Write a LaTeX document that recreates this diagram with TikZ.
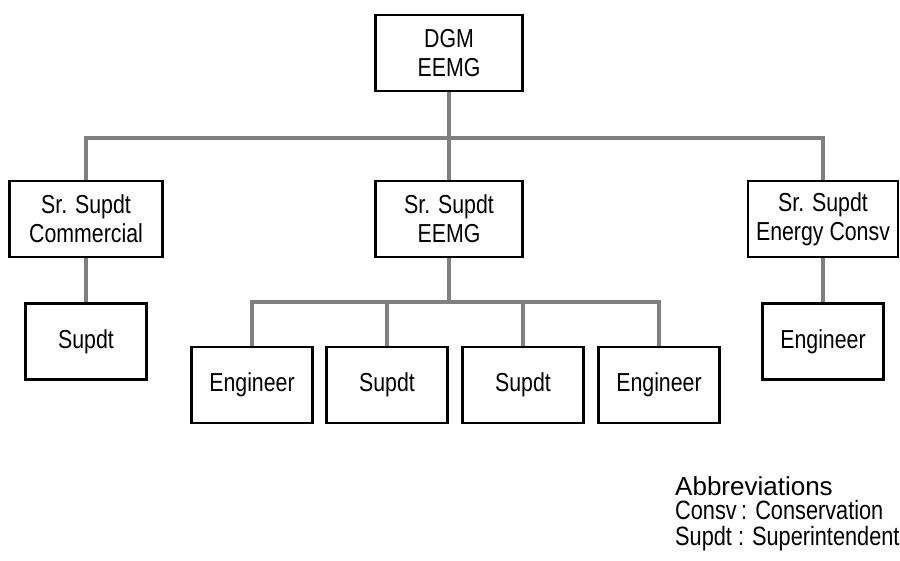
\documentclass[tikz,border=0pt]{standalone}
\usepackage{fontspec}
\setmainfont{Liberation Sans}
\newfontfamily\narrowfont[FakeStretch=0.82]{Liberation Sans}
\usepackage{xcolor}
\usepackage{tikz}
\usetikzlibrary{positioning, calc}
\definecolor{linkgray}{HTML}{808080}
\tikzset{
    orgbox/.style   = {draw=black, line width=2.6pt, fill=white, align=center,
                       font=\narrowfont\fontsize{26}{29}\selectfont, inner sep=2pt,
                       minimum width=150pt, minimum height=76pt},
    leafbox/.style  = {orgbox, minimum width=121pt},
    link/.style     = {linkgray, line width=4pt},
    abbrev/.style   = {anchor=base west, inner sep=0pt},
    abbrline/.style = {abbrev, font=\narrowfont\fontsize{26.5}{30}\selectfont},
}

\begin{document}
\begin{tikzpicture}[x=1pt, y=-1pt, node distance=44pt and 14pt]
\useasboundingbox (0,0) rectangle (900,561);

% top level
\node[orgbox, minimum width=147pt] (dgm) at (449,53) {DGM\\EEMG};

% second level
\node[orgbox, minimum width=153pt] (comm)   at (86,219)  {Sr. Supdt\\Commercial};
\node[orgbox, minimum width=147pt] (eemg)   at (449,219) {Sr. Supdt\\EEMG};
\node[orgbox]                      (energy) at (823,219) {Sr. Supdt\\Energy Consv};

% staff under the side heads
\node[leafbox, below=of comm]   (commsup) {Supdt};
\node[leafbox, below=of energy] (energyeng) {Engineer};

% staff under EEMG
\node[leafbox] (eng1) at (252,385) {Engineer};
\node[leafbox] (sup2) at (387,385) {Supdt};
\node[leafbox] (sup3) at (523,385) {Supdt};
\node[leafbox] (eng4) at (659,385) {Engineer};

% connectors
\coordinate (topbus) at ($(dgm.south)+(0,46)$);
\draw[link] (dgm.south) -- (topbus);
\draw[link] (topbus) -| (comm.north);
\draw[link] (topbus) -| (energy.north);
\draw[link] (dgm.south) -- (eemg.north);

\draw[link] (comm.south) -- (commsup.north);
\draw[link] (energy.south) -- (energyeng.north);

\coordinate (midbus) at ($(eemg.south)+(0,44)$);
\draw[link] (eemg.south) -- (midbus);
\foreach \n in {eng1, sup2, sup3, eng4}
    \draw[link] (midbus) -| (\n.north);

% key
\node[abbrev, font=\fontsize{26}{30}\selectfont] (abbrtitle) at (675,495) {Abbreviations};
\node[abbrline] (abbrconsv) at (675,519) {Consv\,: Conservation};
\node[abbrline] (abbrsupdt) at (675,545) {Supdt : Superintendent};

\end{tikzpicture}
\end{document}
